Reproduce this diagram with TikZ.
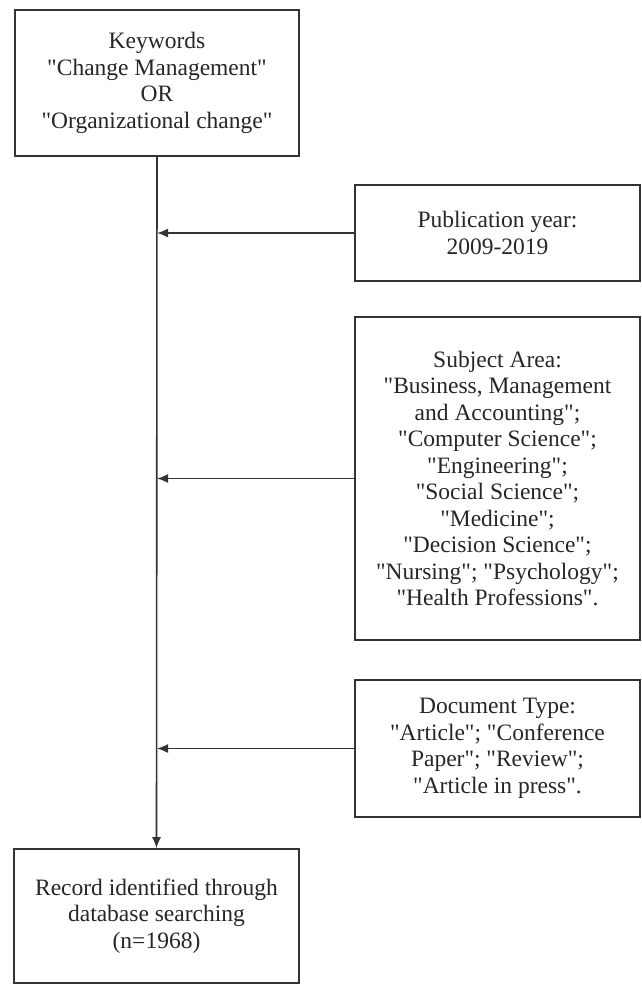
\documentclass[tikz,border=0pt]{standalone}
\usepackage{fontspec}
\setmainfont{Liberation Serif}[Ligatures=TeXOff]
\usetikzlibrary{arrows.meta}

\begin{document}
\begin{tikzpicture}[x=1pt,y=1pt,
  box/.style={draw=black!80, line width=1.6pt, align=center, inner sep=4pt,
    font=\fontsize{23.5}{26.5}\selectfont, text=black!85},
  link/.style={draw=black!80, line width=1.6pt, -{Latex[length=11pt,width=9pt]}}]
  \useasboundingbox (0,0) rectangle (641,-984);

  \node [box, minimum width=284, minimum height=146] (kw) at (157,-83)
    {Keywords\\"Change Management"\\OR\\"Organizational change"};
  \node [box, minimum width=285, minimum height=96] (pub) at (497.5,-233)
    {Publication year:\\2009-2019};
  \node [box, minimum width=285, minimum height=323] (subj) at (497.5,-478.5)
    {Subject Area:\\"Business, Management\\and Accounting";\\"Computer Science";\\"Engineering";\\"Social Science";\\"Medicine";\\"Decision Science";\\"Nursing"; "Psychology";\\"Health Professions".};
  \node [box, minimum width=285, minimum height=137] (doc) at (497.5,-748.5)
    {Document Type:\\"Article"; "Conference\\Paper"; "Review";\\"Article in press".};
  \node [box, minimum width=285, minimum height=134] (rec) at (156.5,-916)
    {Record identified through\\database searching\\(n=1968)};

  \draw [link] (kw.south) -- (rec.north);
  \draw [link] (pub.west) -- (pub.west -| kw.south);
  \draw [link] (subj.west) -- (subj.west -| kw.south);
  \draw [link] (doc.west) -- (doc.west -| kw.south);
\end{tikzpicture}
\end{document}
